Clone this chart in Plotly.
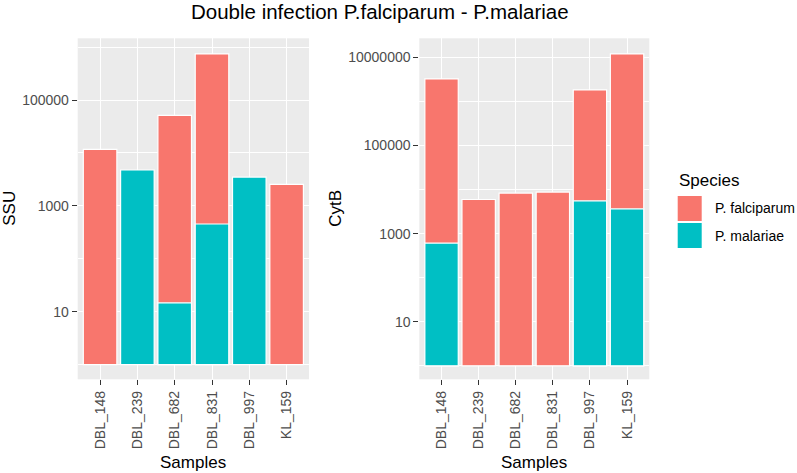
import plotly.graph_objects as go
from plotly.subplots import make_subplots

samples = ["DBL_148", "DBL_239", "DBL_682", "DBL_831", "DBL_997", "KL_159"]
species = ["P. falciparum", "P. malariae"]
colors = ["#F8766D", "#00BFC4"]

ssu_falciparum = [11700, None, 51400, 741000, None, 2550]
ssu_malariae = [None, 4750, 13.7, 453, 3500, None]
cytb_falciparum = [3250000, 5970, 8340, 8770, 1830000, 12000000]
cytb_malariae = [612, None, None, None, 5570, 3670]

left_ticks = [10, 1000, 100000]
left_minor = [1, 100, 10000, 1000000]
right_ticks = [10, 1000, 100000, 10000000]
right_minor = [1, 100, 10000, 1000000]

W, H = 797, 473
FONT = "Liberation Sans, Arial, sans-serif"

def px(x):
    return x / W

def py(y):
    return 1 - y / H

fig = make_subplots(rows=1, cols=2)

panels = [
    (1, ssu_falciparum, ssu_malariae),
    (2, cytb_falciparum, cytb_malariae),
]
for col, fal, mal in panels:
    for name, vals, c in zip(species, [fal, mal], colors):
        fig.add_trace(
            go.Bar(
                x=samples, y=vals, base=1, name=name, width=0.9,
                marker=dict(color=c, line=dict(color="white", width=1.2)),
                showlegend=False,
            ),
            row=1, col=col,
        )

fig.update_layout(barmode="overlay")

axis_common = dict(
    showline=False, zeroline=False,
    ticks="outside", ticklen=5, tickwidth=1.1, tickcolor="#333333",
    tickfont=dict(family=FONT, size=14, color="#4D4D4D"),
    showgrid=True, gridcolor="white", gridwidth=1.4,
)

fig.update_xaxes(
    **axis_common, type="category", range=[-0.6, 5.6], tickangle=-90,
)
fig.update_xaxes(domain=[px(77.7), px(309)], row=1, col=1)
fig.update_xaxes(domain=[px(419.3), px(649.3)], row=1, col=2)

fig.update_yaxes(**axis_common, type="log", domain=[py(379.3), py(38.3)])
fig.update_yaxes(
    range=[-0.278, 6.166], tickvals=left_ticks, ticktext=[str(v) for v in left_ticks],
    minor=dict(tickvals=left_minor, showgrid=True, gridcolor="white", gridwidth=0.7, ticks=""),
    row=1, col=1,
)
fig.update_yaxes(
    range=[-0.306, 7.435], tickvals=right_ticks, ticktext=[str(v) for v in right_ticks],
    minor=dict(tickvals=right_minor, showgrid=True, gridcolor="white", gridwidth=0.7, ticks=""),
    row=1, col=2,
)

annotations = [
    dict(text="Double infection P.falciparum - P.malariae", x=px(380), y=py(12),
         font=dict(size=20.5, color="black")),
    dict(text="SSU", x=px(10), y=py(208.8), textangle=-90, font=dict(size=17, color="black")),
    dict(text="CytB", x=px(336), y=py(208.8), textangle=-90, font=dict(size=17, color="black")),
    dict(text="Samples", x=px(193.4), y=py(462), font=dict(size=17, color="black")),
    dict(text="Samples", x=px(534.3), y=py(462), font=dict(size=17, color="black")),
    dict(text="Species", x=px(677), y=py(180), xanchor="left", font=dict(size=17, color="black")),
    dict(text=species[0], x=px(712.7), y=py(208.3), xanchor="left", font=dict(size=14, color="black")),
    dict(text=species[1], x=px(712.7), y=py(235.5), xanchor="left", font=dict(size=14, color="black")),
]
for a in annotations:
    a.setdefault("xanchor", "center")
    a.update(xref="paper", yref="paper", yanchor="middle", showarrow=False)
    a["font"]["family"] = FONT
    fig.add_annotation(**a)

key_boxes = [(196, 221), (223, 248)]
for (y0, y1), c in zip(key_boxes, colors):
    fig.add_shape(type="rect", xref="paper", yref="paper",
                  x0=px(677.7), x1=px(701.7), y0=py(y1), y1=py(y0),
                  fillcolor=c, line=dict(width=0))

fig.update_layout(
    width=W, height=H,
    margin=dict(l=0, r=0, t=0, b=0),
    paper_bgcolor="white", plot_bgcolor="#EBEBEB",
    font=dict(family=FONT),
)

fig.write_html(
    "out.html",
    config={"displayModeBar": False},
    post_script="document.body.style.margin='0';document.body.style.overflow='hidden';",
)
